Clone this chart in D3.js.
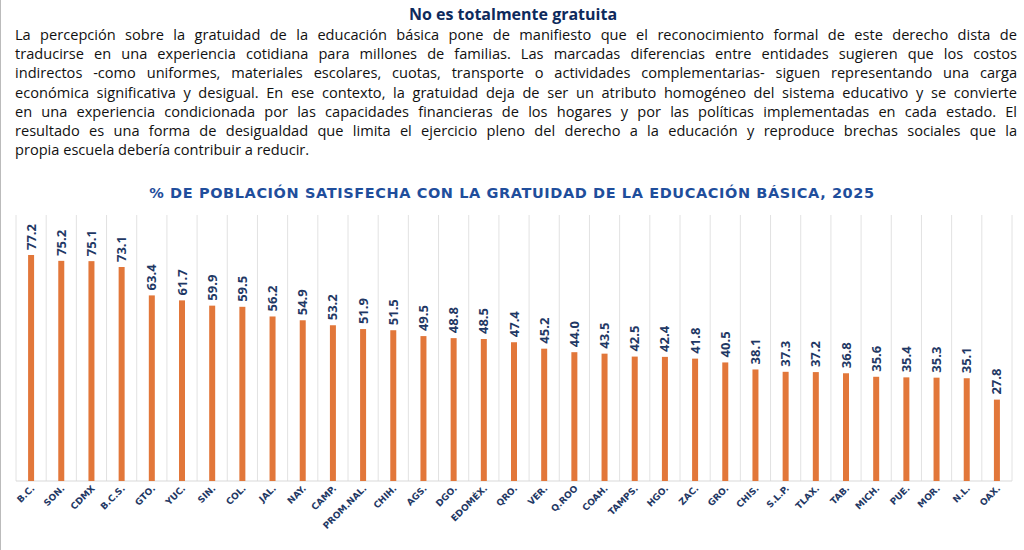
<!DOCTYPE html>
<html><head><meta charset="utf-8">
<script src="https://cdn.jsdelivr.net/npm/d3@7"></script>
<style>
body{margin:0;background:#fff;font-family:"Open Sans",sans-serif;}
#wrap{position:absolute;left:0;top:0;width:1024px;height:550px;border-left:1.5px solid #bbb;box-sizing:border-box;}
#title{position:absolute;left:0;width:1024px;top:3px;line-height:20px;text-align:center;font:bold 16px "Open Sans",sans-serif;color:#0e2a5c;}
#para{position:absolute;left:14px;width:1002px;top:25px;font-size:14.6px;line-height:19.2px;color:#111;}
#para div{text-align:justify;text-align-last:justify;white-space:nowrap;}
#para div:last-child{text-align-last:left;}
svg{position:absolute;left:0;top:0;}
</style></head><body>
<div id="wrap">
<div id="title">No es totalmente gratuita</div>
<div id="para"></div>
</div>
<svg id="chart" width="1024" height="550"></svg>
<script>
var paraLines = [
  'La percepción sobre la gratuidad de la educación básica pone de manifiesto que el reconocimiento formal de este derecho dista de',
  'traducirse en una experiencia cotidiana para millones de familias. Las marcadas diferencias entre entidades sugieren que los costos',
  'indirectos -como uniformes, materiales escolares, cuotas, transporte o actividades complementarias- siguen representando una carga',
  'económica significativa y desigual. En ese contexto, la gratuidad deja de ser un atributo homogéneo del sistema educativo y se convierte',
  'en una experiencia condicionada por las capacidades financieras de los hogares y por las políticas implementadas en cada estado. El',
  'resultado es una forma de desigualdad que limita el ejercicio pleno del derecho a la educación y reproduce brechas sociales que la',
  'propia escuela debería contribuir a reducir.'
];
var states = ['B.C.','SON.','CDMX','B.C.S.','GTO.','YUC.','SIN.','COL.','JAL.','NAY.','CAMP.','PROM.NAL.','CHIH.','AGS.','DGO.','EDOMÉX.','QRO.','VER.','Q.ROO','COAH.','TAMPS.','HGO.','ZAC.','GRO.','CHIS.','S.L.P.','TLAX.','TAB.','MICH.','PUE.','MOR.','N.L.','OAX.'];
var values = [77.2,75.2,75.1,73.1,63.4,61.7,59.9,59.5,56.2,54.9,53.2,51.9,51.5,49.5,48.8,48.5,47.4,45.2,44.0,43.5,42.5,42.4,41.8,40.5,38.1,37.3,37.2,36.8,35.6,35.4,35.3,35.1,27.8];

d3.select('#para').selectAll('div')
  .data(paraLines)
  .enter().append('div')
    .text(function(d) { return d; });

var svg = d3.select('#chart');
var navy = '#1f3864';

svg.append('text')
  .attr('x', 512).attr('y', 198)
  .attr('text-anchor', 'middle')
  .style('font', 'bold 14.5px "DejaVu Sans", sans-serif')
  .style('letter-spacing', '0.6px')
  .attr('fill', '#1f4e9c')
  .text('% DE POBLACIÓN SATISFECHA CON LA GRATUIDAD DE LA EDUCACIÓN BÁSICA, 2025');

var base = 481;
var x = d3.scaleBand().domain(states).range([16, 1012]);
var y = d3.scaleLinear().domain([0, 77.2]).range([base, 255]);

// vertical gridlines between categories
svg.selectAll('.grid')
  .data(states.concat(['end']))
  .enter().append('line')
    .attr('x1', function(d, i) { return 16 + i * x.step(); })
    .attr('x2', function(d, i) { return 16 + i * x.step(); })
    .attr('y1', 215).attr('y2', base)
    .attr('stroke', '#e2e2e2').attr('stroke-width', 1);

svg.append('line')
  .attr('x1', 16).attr('x2', 1012).attr('y1', base).attr('y2', base)
  .attr('stroke', '#d9d9d9');

svg.selectAll('.bar')
  .data(values)
  .enter().append('rect')
    .attr('x', function(d, i) { return x(states[i]) + x.bandwidth() / 2 - 3; })
    .attr('width', 6)
    .attr('y', function(d) { return y(d); })
    .attr('height', function(d) { return base - y(d); })
    .attr('fill', '#e2773a');

svg.selectAll('.val')
  .data(values)
  .enter().append('text')
    .attr('transform', function(d, i) {
      return 'translate(' + (x(states[i]) + x.bandwidth() / 2 + 4.5) + ',' + (y(d) - 5) + ') rotate(-90)';
    })
    .style('font', 'bold 13px "Open Sans", sans-serif')
    .attr('fill', navy)
    .text(function(d) { return d.toFixed(1); });

svg.selectAll('.lab')
  .data(states)
  .enter().append('text')
    .attr('transform', function(d) {
      return 'translate(' + (x(d) + x.bandwidth() / 2 + 4) + ',' + (base + 8) + ') rotate(-45)';
    })
    .attr('text-anchor', 'end')
    .style('font', 'bold 9px "DejaVu Sans", sans-serif')
    .attr('fill', navy)
    .text(function(d) { return d; });
</script>
</body></html>
